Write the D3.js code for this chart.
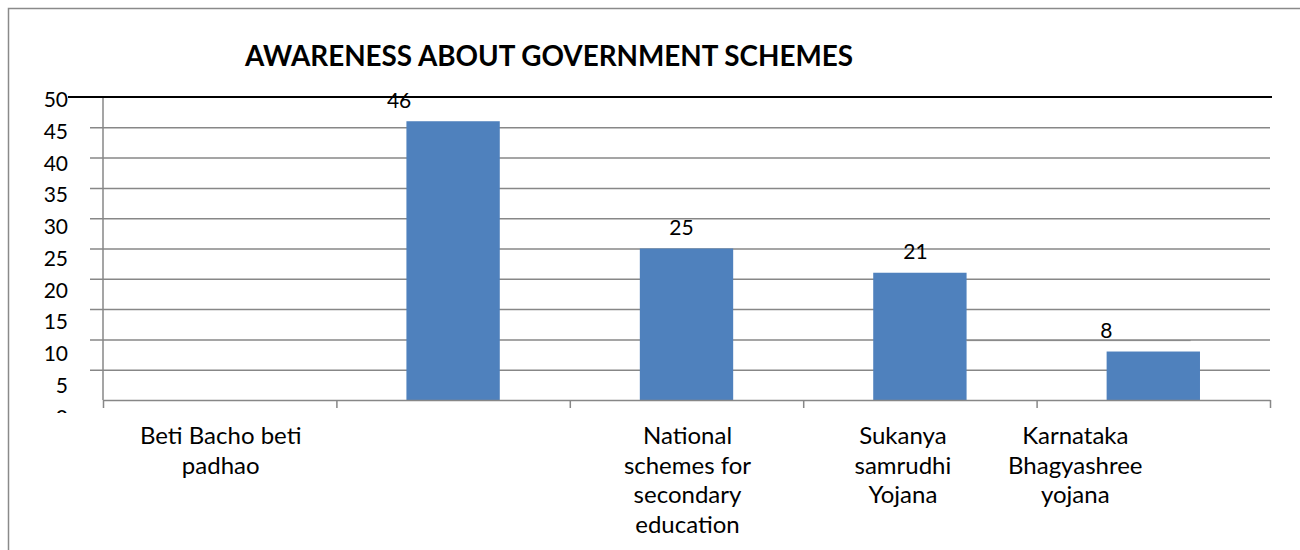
<!DOCTYPE html>
<html>
<head>
<meta charset="utf-8">
<script src="https://cdn.jsdelivr.net/npm/d3@7"></script>
<style>
  body { margin: 0; background: #fff; }
  svg { display: block; }
  text { font-family: Lato, "Open Sans", sans-serif; fill: #000; }
</style>
</head>
<body>
<svg id="chart" width="1300" height="550"></svg>
<script>
// ---- data ----
const chartTitle = "AWARENESS ABOUT GOVERNMENT SCHEMES";
const categories = [
  "Beti Bacho beti padhao",
  "",
  "National schemes for secondary education",
  "Sukanya samrudhi Yojana",
  "Karnataka Bhagyashree yojana"
];
const categoryLines = [
  ["Beti Bacho beti", "padhao"],
  [],
  ["National", "schemes for", "secondary", "education"],
  ["Sukanya", "samrudhi", "Yojana"],
  ["Karnataka", "Bhagyashree", "yojana"]
];
const values = [null, 46, 25, 21, 8];
const yTickValues = [0, 5, 10, 15, 20, 25, 30, 35, 40, 45, 50];

// ---- layout ----
const W = 1300, H = 550;
const plot = { left: 103, right: 1270, top: 97, bottom: 400 };
const gridLeft = 90;
const grey = "#878787";
const barColor = "#4F81BD";
// horizontal nudges of the value labels and category text boxes
const valueLabelShift = [0, -54, -5, -4.5, -47];
const categoryShift = [1, 0, 1, -17, -78];
const categoryClipBottom = [null, null, null, 508, 508];

const svg = d3.select("#chart");

const y = d3.scaleLinear().domain([0, 50]).range([plot.bottom, plot.top]);
// tick text sits on its own slightly wider spacing
const yText = d3.scaleLinear().domain([0, 50]).range([424.5, 107]);
const x = d3.scaleBand().domain(d3.range(categories.length))
  .range([plot.left, plot.right]).paddingInner(0).paddingOuter(0);
const xEdge = d3.scaleLinear().domain([0, categories.length]).range([plot.left, plot.right]);

// outer frame
svg.append("rect")
  .attr("x", 8.5).attr("y", 8.5)
  .attr("width", W + 20).attr("height", H + 20)
  .attr("fill", "none").attr("stroke", "#8a8a8a").attr("stroke-width", 1.5);

// title
svg.append("text")
  .attr("x", 549).attr("y", 66)
  .attr("text-anchor", "middle")
  .attr("font-size", 28).attr("font-weight", 700)
  .attr("textLength", 608).attr("lengthAdjust", "spacingAndGlyphs")
  .text(chartTitle);

// horizontal gridlines with tick stubs
const grid = svg.append("g")
  .attr("transform", `translate(${gridLeft},0)`)
  .call(d3.axisRight(y).tickValues(yTickValues.filter(v => v !== 50 && v !== 0))
    .tickSize(plot.right - gridLeft).tickFormat(""));
grid.select(".domain").remove();
grid.selectAll(".tick line").attr("stroke", grey).attr("stroke-width", 1.5);

// y tick labels (bottom one is cut off by the plot frame)
svg.append("defs").append("clipPath").attr("id", "yclip")
  .append("rect").attr("x", 0).attr("y", 0).attr("width", 100).attr("height", 413);
svg.append("g").attr("clip-path", "url(#yclip)")
  .selectAll("text").data(yTickValues).join("text")
  .attr("x", 68).attr("y", d => yText(d))
  .attr("text-anchor", "end").attr("font-size", 21)
  .text(d => d);

// vertical axis line
svg.append("line")
  .attr("x1", plot.left).attr("x2", plot.left)
  .attr("y1", plot.top).attr("y2", plot.bottom)
  .attr("stroke", grey).attr("stroke-width", 1.5);

// bars
const bw = x.bandwidth();
svg.append("g").selectAll("rect")
  .data(values.map((v, i) => ({ v, i })).filter(d => d.v != null))
  .join("rect")
  .attr("x", d => x(d.i) + bw * 0.3)
  .attr("width", bw * 0.4)
  .attr("y", d => y(d.v))
  .attr("height", d => y(0) - y(d.v))
  .attr("fill", barColor);

// category axis with boundary ticks
const xAxis = svg.append("g")
  .attr("transform", `translate(0,${plot.bottom})`)
  .call(d3.axisBottom(xEdge).tickValues(d3.range(categories.length + 1))
    .tickSize(8).tickSizeOuter(0).tickFormat(""));
xAxis.select(".domain").attr("stroke", grey).attr("stroke-width", 1.5);
xAxis.selectAll(".tick line").attr("stroke", grey).attr("stroke-width", 1.5);

// top gridline (value 50), drawn in black
svg.append("line")
  .attr("x1", 68).attr("x2", 1272)
  .attr("y1", y(50)).attr("y2", y(50))
  .attr("stroke", "#000").attr("stroke-width", 2);

// thin connector line beside the last bar
svg.append("line")
  .attr("x1", x(3) + bw * 0.7).attr("x2", x(4) + bw * 0.66)
  .attr("y1", y(9.8)).attr("y2", y(9.8))
  .attr("stroke", grey).attr("stroke-width", 1);

// value labels
svg.append("g").selectAll("text")
  .data(values.map((v, i) => ({ v, i })).filter(d => d.v != null))
  .join("text")
  .attr("x", d => x(d.i) + bw / 2 + valueLabelShift[d.i])
  .attr("y", d => y(d.v) - 13.5)
  .attr("text-anchor", "middle").attr("font-size", 21)
  .text(d => d.v);

// category labels
const defs = svg.select("defs");
categoryLines.forEach((lines, i) => {
  if (!lines.length) return;
  let g = svg.append("g");
  if (categoryClipBottom[i] != null) {
    defs.append("clipPath").attr("id", "cclip" + i)
      .append("rect").attr("x", 0).attr("y", 0)
      .attr("width", W).attr("height", categoryClipBottom[i]);
    g.attr("clip-path", `url(#cclip${i})`);
  }
  const cx = x(i) + bw / 2 + categoryShift[i];
  g.selectAll("text").data(lines).join("text")
    .attr("x", cx)
    .attr("y", (d, k) => 444 + k * 29.7)
    .attr("text-anchor", "middle").attr("font-size", 24)
    .text(d => d);
});
</script>
</body>
</html>
